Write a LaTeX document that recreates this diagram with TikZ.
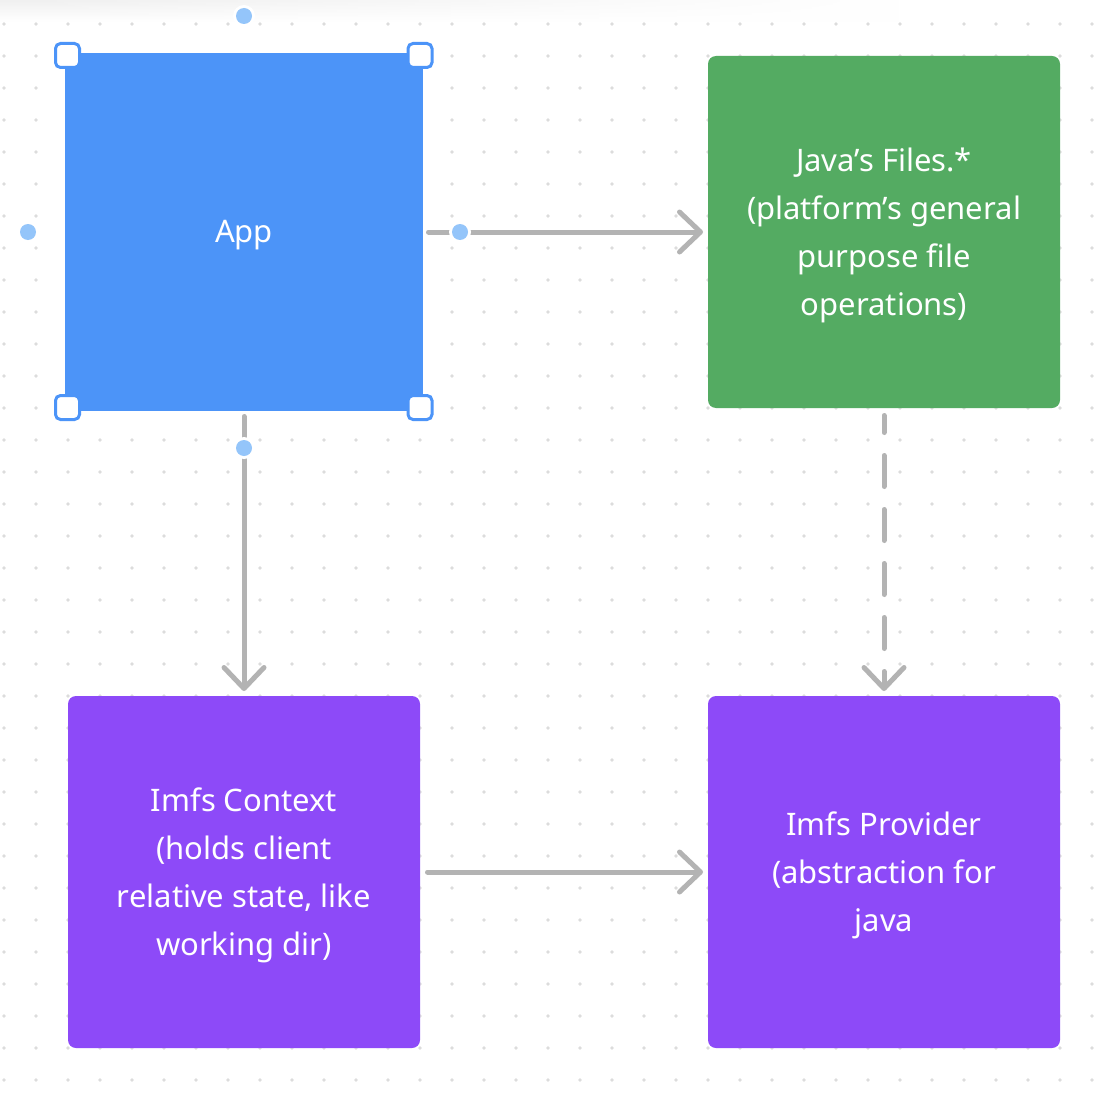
\documentclass[tikz,border=0pt]{standalone}
\usepackage{fontspec}
\setmainfont{Noto Sans}
\usetikzlibrary{arrows.meta,fadings}
\definecolor{appblue}{HTML}{4C94F8}
\definecolor{filegreen}{HTML}{54AB62}
\definecolor{imfspurple}{HTML}{8D4AF8}
\definecolor{arrowgray}{HTML}{B3B3B3}
\definecolor{dotgray}{HTML}{DCDCDC}
\definecolor{handledot}{HTML}{94C5FA}
\tikzfading[name=fadeR, left color=transparent!0, right color=transparent!100]
\tikzset{
  box/.style={rectangle, rounded corners=8pt, minimum width=352pt, minimum height=352pt,
    inner sep=0pt, outer sep=0pt},
  boxtext/.style={inner sep=0pt, text=white, align=center,
    font=\fontsize{31}{48}\selectfont},
  conn/.style={draw=arrowgray, line width=5pt, line cap=round,
    -{Straight Barb[length=21pt,width=40pt,round]}},
  handle/.style={draw=appblue, line width=3pt, fill=white, rounded corners=5pt},
  anchordot/.style={fill=handledot},
}
\begin{document}
\begin{tikzpicture}[x=1pt,y=-1pt]
\useasboundingbox (0,0) rectangle (1110,1110);
\fill[white] (0,0) rectangle (1110,1110);
\shade[top color=black!6, bottom color=white, path fading=fadeR] (0,0) rectangle (900,22);
\foreach \i in {0,...,34}{
  \foreach \j in {0,...,33}{
    \fill[dotgray] (4+32*\i,24+32*\j) circle (1.8pt);
  }
}
\node[box, fill=appblue, rounded corners=0pt, minimum width=358pt, minimum height=358pt] (app) at (244,232) {};
\node[box, fill=filegreen] (files) at (884,232) {};
\node[box, fill=imfspurple] (ctx) at (244,872) {};
\node[box, fill=imfspurple] (prov) at (884,872) {};
\node[boxtext] (appt) at ([yshift=-3pt]app.center) {App};
\node[boxtext] (filest) at ([yshift=-3pt]files.center) {Java’s Files.*\\(platform’s general\\purpose file\\operations)};
\node[boxtext] (ctxt) at ([yshift=-3pt]ctx.center) {Imfs Context\\(holds client\\relative state, like\\working dir)};
\node[boxtext] (provt) at ([yshift=-3pt]prov.center) {Imfs Provider\\(abstraction for\\java};

\draw[conn] ([xshift=5.5pt]app.east) -- ([xshift=-5pt]files.west);
\draw[conn] ([yshift=-5.5pt]app.south) -- ([yshift=5pt]ctx.north);
\draw[conn, dash pattern=on 31pt off 23pt, dash phase=14pt] ([yshift=-7.5pt]files.south) -- ([yshift=5pt]prov.north);
\draw[conn] ([xshift=7.5pt]ctx.east) -- ([xshift=-5pt]prov.west);

\foreach \x/\y in {67.5/55.5, 420/55.5, 67.5/407.5, 420/407.5}{
  \draw[handle] (\x-12,\y-12) rectangle (\x+12,\y+12);
}
\foreach \x/\y in {244/16, 28/232, 460/232, 244/448}{
  \fill[white] (\x,\y) circle (11pt);
  \fill[anchordot] (\x,\y) circle (8pt);
}
\end{tikzpicture}
\end{document}
